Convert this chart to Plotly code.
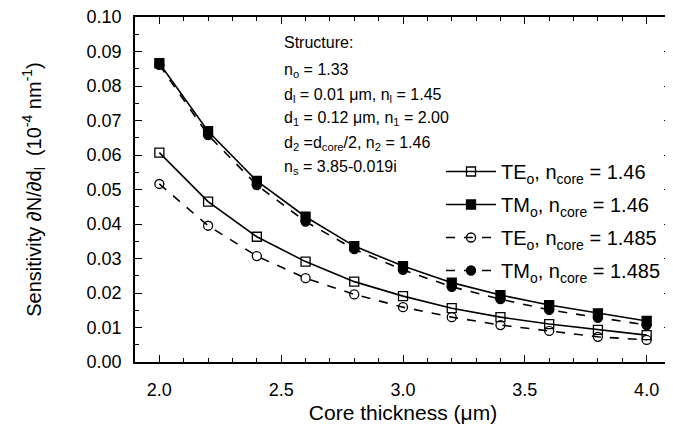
import plotly.graph_objects as go

thickness = [2.0, 2.2, 2.4, 2.6, 2.8, 3.0, 3.2, 3.4, 3.6, 3.8, 4.0]
te_146 = [0.0607, 0.0465, 0.0363, 0.0291, 0.0233, 0.0191, 0.0156, 0.0130, 0.0110, 0.0093, 0.0078]
tm_146 = [0.0866, 0.0669, 0.0525, 0.0421, 0.0336, 0.0278, 0.0230, 0.0194, 0.0165, 0.0141, 0.0119]
te_1485 = [0.0516, 0.0395, 0.0307, 0.0243, 0.0196, 0.0159, 0.0130, 0.0107, 0.0090, 0.0073, 0.0064]
tm_1485 = [0.0861, 0.0658, 0.0513, 0.0407, 0.0327, 0.0267, 0.0218, 0.0182, 0.0151, 0.0128, 0.0107]

names = ["TE<sub>o</sub>, n<sub>core</sub> = 1.46",
         "TM<sub>o</sub>, n<sub>core</sub> = 1.46",
         "TE<sub>o</sub>, n<sub>core</sub> = 1.485",
         "TM<sub>o</sub>, n<sub>core</sub> = 1.485"]

structure_lines = ["Structure:",
                   "n<sub>o</sub> = 1.33",
                   "d<sub>l</sub> = 0.01 μm, n<sub>l</sub> = 1.45",
                   "d<sub>1</sub> = 0.12 μm, n<sub>1</sub> = 2.00",
                   "d<sub>2</sub> =d<sub>core</sub>/2, n<sub>2</sub> = 1.46",
                   "n<sub>s</sub> = 3.85-0.019i"]

FONT = "Arial, Liberation Sans, Helvetica, sans-serif"

series = [
    (te_146, "solid", "square-open"),
    (tm_146, "solid", "square"),
    (te_1485, "dash", "circle-open"),
    (tm_1485, "dash", "circle"),
]

fig = go.Figure()
for i, (vals, dash, sym) in enumerate(series):
    fig.add_trace(go.Scatter(
        x=thickness, y=vals, name=names[i], mode="lines+markers",
        legendgroup="g%d" % i,
        line=dict(color="black", width=1.6, dash=dash),
        marker=dict(symbol=sym, size=9, color="black", line=dict(color="black", width=1.3)),
    ))

# page has an 8px body margin: figure origin sits at page (8, 8)
OFF = 8
W, H = 673 - OFF, 429 - OFF
L, R, T, B = 135 - OFF, 2, 17 - OFF, 429 - 362
pw = W - L - R
ph = H - T - B

def px(xpage):
    return (xpage - OFF - L) / pw

def py(ypage):
    return (H - B - (ypage - OFF)) / ph

for k, txt in enumerate(structure_lines):
    ypage = 42 + (0 if k == 0 else 29 + (k - 1) * 24)
    fig.add_annotation(
        x=px(282), y=py(ypage), xref="paper", yref="paper",
        xanchor="left", yanchor="middle", text=txt, showarrow=False,
        font=dict(family=FONT, size=16, color="black"))

axis_common = dict(
    showline=True, linecolor="black", linewidth=1.5, mirror="ticks",
    ticks="inside", ticklen=7, tickwidth=1.3, tickcolor="black",
    showgrid=False, zeroline=False, automargin=False, ticklabeloverflow="allow",
    tickfont=dict(family=FONT, size=18, color="black"),
)

fig.update_layout(
    width=W, height=H,
    margin=dict(l=L, r=R, t=T, b=B),
    paper_bgcolor="white", plot_bgcolor="white",
    font=dict(family=FONT, color="black"),
    xaxis=dict(range=[1.9, 4.1], tickvals=[2.0, 2.5, 3.0, 3.5, 4.0], ticktext=["2.0", "2.5", "3.0", "3.5", "4.0"],
               minor=dict(dtick=0.1, ticks="inside", ticklen=4, tickcolor="black", tickwidth=1.2),
               title=dict(text="Core thickness (μm)", font=dict(family=FONT, size=21), standoff=6),
               ticklabelstandoff=11,
               **axis_common),
    yaxis=dict(range=[0, 0.1], dtick=0.01, tickformat=".2f",
               minor=dict(dtick=0.005, ticks="inside", ticklen=4, tickcolor="black", tickwidth=1.2),
               title=dict(text="Sensitivity ∂N/∂d<sub>l</sub>  (10<sup>-4</sup> nm<sup>-1</sup>)",
                          font=dict(family=FONT, size=20), standoff=40),
               ticklabelstandoff=8,
               **axis_common),
    showlegend=True,
    legend=dict(x=px(441), y=py(152), xanchor="left", yanchor="top",
                bgcolor="rgba(0,0,0,0)", borderwidth=0, traceorder="grouped", tracegroupgap=4,
                itemwidth=50, font=dict(family=FONT, size=20, color="black")),
)

fig.write_html("out.html")
